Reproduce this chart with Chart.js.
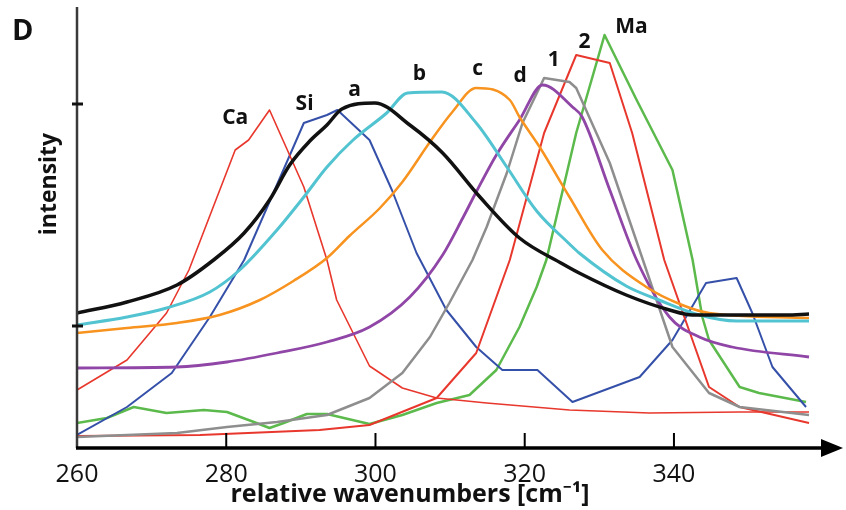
<!DOCTYPE html>
<html>
<head>
<meta charset="utf-8">
<script src="https://cdn.jsdelivr.net/npm/chart.js@4"></script>
<style>
  html, body { margin: 0; padding: 0; background: #fff; }
  #wrap { width: 846px; height: 510px; position: relative; }
</style>
</head>
<body>
<div id="wrap"><canvas id="spectra"></canvas></div>
<script>
// Raman band positions (x = relative wavenumber, y = intensity, a.u.)
const aX = [260, 266.7, 273.4, 278.3, 282.4, 285.8, 288.5, 291.2, 293.5, 295.5, 299.9, 304.6, 309, 314, 319.3, 325.1, 327.3, 333.6, 339.4, 342.5, 355, 358.1];
const aY = [135, 146, 163, 188, 215, 248, 283, 307, 323, 339, 345, 323, 295, 251, 210, 184, 175, 153, 138, 133, 133, 134];

const bX = [260, 266.7, 272, 277.8, 281.8, 286.8, 290.4, 293.5, 297, 301.5, 304.3, 308.9, 313.5, 317.6, 321.6, 326, 327.3, 333.6, 338, 343.4, 348.4, 358.1];
const bY = [123, 131, 140, 156, 178, 218, 251, 281, 308, 335, 355, 356, 325, 281, 237, 204, 195, 162, 148, 133, 127, 127];

const cX = [260, 266.7, 273.4, 279.1, 284.5, 289, 293.5, 296.5, 300.6, 303.6, 307.3, 310.3, 313.5, 318, 319.3, 322, 326, 330.4, 336.3, 341.1, 344.7, 358.1];
const cY = [115, 120, 125, 133, 148, 167, 190, 212, 240, 266, 306, 336, 360, 348, 331, 301, 251, 198, 161, 143, 135, 130];

const dX = [260, 273.4, 280.1, 286.8, 293.5, 299.2, 304.6, 309, 311.7, 313.5, 316.2, 319.3, 322.4, 326.4, 327.7, 331.4, 335, 339.4, 343.4, 347.8, 358.1];
const dY = [80, 81, 86, 95, 106, 121, 151, 193, 230, 256, 293, 328, 363, 341, 331, 258, 188, 131, 111, 101, 91];

const oneX = [260, 273.4, 280.1, 286.8, 293.5, 299.2, 303.6, 307.3, 309.9, 313, 314.9, 317.6, 319.7, 322.6, 326, 326.9, 331.4, 336.3, 339.8, 344.7, 348.8, 358.1];
const oneY = [11, 15, 21, 26, 33, 50, 75, 111, 145, 188, 221, 275, 325, 370, 366, 360, 285, 178, 101, 55, 41, 33];

const twoX = [260, 276.5, 292.5, 299.2, 308.2, 313.5, 318, 322.6, 326.9, 331.4, 334.4, 338.7, 344.7, 348.8, 358.1];
const twoY = [12, 13, 18, 23, 50, 95, 188, 315, 393, 385, 315, 188, 61, 41, 25];

const caX = [260, 266.7, 272, 275, 281.2, 283, 285.8, 290.4, 293.5, 294.8, 299.2, 303.6, 308.2, 314.9, 326, 336.7, 348.8, 358.1];
const caY = [58, 88, 135, 178, 298, 308, 338, 261, 188, 148, 82, 60, 50, 45, 38, 35, 36, 36];

const siX = [260, 266.7, 272.7, 277.8, 282.4, 290.4, 293.5, 294.9, 299.2, 302.2, 305.5, 309.5, 313.5, 317, 321.7, 326.4, 335.4, 339.8, 344.3, 348.4, 350.5, 353.2, 357.7];
const siY = [13, 41, 75, 131, 188, 325, 333, 338, 308, 258, 195, 138, 101, 78, 78, 46, 71, 108, 165, 170, 135, 81, 41];

const maX = [260, 264, 267.6, 272, 277, 280.1, 283.7, 285.8, 287.7, 290.8, 293.5, 295.2, 299.2, 303.6, 308.2, 312.6, 316.2, 319.3, 321.6, 322.9, 326.9, 330.7, 335, 339.8, 342.5, 343.8, 344.7, 348.8, 351.4, 357.7];
const maY = [25, 30, 41, 35, 38, 36, 26, 20, 25, 34, 34, 31, 24, 33, 45, 53, 78, 121, 161, 188, 315, 413, 348, 278, 188, 131, 108, 61, 55, 46];

const xTicks = [260, 280, 300, 320, 340];
const yTicks = [122, 344];

// curve names and where their labels sit (data coords)
const curveLabels = [
  { text: "Ca", x: 281.2, y: 330 },
  { text: "Si", x: 290.5, y: 344 },
  { text: "a", x: 297.2, y: 358 },
  { text: "b", x: 305.9, y: 374 },
  { text: "c", x: 313.7, y: 379 },
  { text: "d", x: 319.4, y: 372 },
  { text: "1", x: 323.9, y: 388 },
  { text: "2", x: 328, y: 406 },
  { text: "Ma", x: 334.3, y: 421 },
];

const FONT = "'Open Sans', 'Noto Sans', sans-serif";

function pts(xs, ys) {
  return xs.map((x, i) => ({ x: x, y: ys[i] }));
}

function series(label, xs, ys, color, width, smooth) {
  return {
    label: label,
    data: pts(xs, ys),
    borderColor: color,
    backgroundColor: color,
    borderWidth: width,
    pointRadius: 0,
    fill: false,
    tension: 0,
    cubicInterpolationMode: smooth ? "monotone" : "default",
    borderJoinStyle: "round",
  };
}

// axes, arrow and the text annotations are drawn on top of the plot
const frame = {
  id: "frame",
  afterDraw(chart) {
    const { ctx, chartArea: a, scales } = chart;
    const x = scales.x, y = scales.y;
    ctx.save();

    // y axis line
    ctx.strokeStyle = "#3a3a3a";
    ctx.lineWidth = 2.5;
    ctx.beginPath();
    ctx.moveTo(a.left, a.top);
    ctx.lineTo(a.left, a.bottom);
    ctx.stroke();

    // y ticks (no labels)
    ctx.strokeStyle = "#111";
    ctx.lineWidth = 3;
    yTicks.forEach(v => {
      const py = y.getPixelForValue(v);
      ctx.beginPath();
      ctx.moveTo(a.left - 5, py);
      ctx.lineTo(a.left + 6, py);
      ctx.stroke();
    });

    // x axis with arrow head
    ctx.strokeStyle = "#000";
    ctx.lineWidth = 3.5;
    ctx.beginPath();
    ctx.moveTo(a.left - 1, a.bottom);
    ctx.lineTo(a.right + 12, a.bottom);
    ctx.stroke();
    ctx.fillStyle = "#000";
    ctx.beginPath();
    ctx.moveTo(a.right + 9, a.bottom - 9);
    ctx.lineTo(a.right + 31, a.bottom);
    ctx.lineTo(a.right + 9, a.bottom + 9);
    ctx.closePath();
    ctx.fill();

    // inward x ticks
    ctx.lineWidth = 2;
    xTicks.slice(1).forEach(v => {
      const px = x.getPixelForValue(v);
      ctx.beginPath();
      ctx.moveTo(px, a.bottom);
      ctx.lineTo(px, a.bottom - 15);
      ctx.stroke();
    });

    // curve labels
    ctx.fillStyle = "#111";
    ctx.textAlign = "center";
    ctx.textBaseline = "middle";
    ctx.font = "bold 21px " + FONT;
    curveLabels.forEach(l => {
      ctx.fillText(l.text, x.getPixelForValue(l.x), y.getPixelForValue(l.y));
    });

    // x title (sits left of the plot centre in the original)
    ctx.textBaseline = "alphabetic";
    ctx.font = "bold 25px " + FONT;
    ctx.fillText("relative wavenumbers [cm\u207B\u00B9]", 410, 502);

    // panel letter
    ctx.textAlign = "left";
    ctx.font = "bold 29px " + FONT;
    ctx.fillText("D", 12, 40);

    // y title
    ctx.translate(49, 184);
    ctx.rotate(-Math.PI / 2);
    ctx.textAlign = "center";
    ctx.textBaseline = "middle";
    ctx.font = "bold 23px " + FONT;
    ctx.fillText("intensity", 0, 0);

    ctx.restore();
  },
};

new Chart(document.getElementById("spectra"), {
  type: "line",
  data: {
    datasets: [
      series("a", aX, aY, "#111111", 3.5, true),
      series("b", bX, bY, "#52c3d0", 3, true),
      series("c", cX, cY, "#f7931e", 2.5, true),
      series("d", dX, dY, "#9046a6", 2.8, true),
      series("1", oneX, oneY, "#8e8e8e", 2.5, false),
      series("2", twoX, twoY, "#e8372c", 2, false),
      series("Ca", caX, caY, "#e8372c", 1.6, false),
      series("Si", siX, siY, "#3550a8", 2, false),
      series("Ma", maX, maY, "#5cba4c", 2.5, false),
    ],
  },
  options: {
    responsive: true,
    maintainAspectRatio: false,
    animation: false,
    layout: { padding: { left: 77, right: 34, top: 7, bottom: 9 } },
    plugins: {
      legend: { display: false },
      tooltip: { enabled: false },
    },
    scales: {
      x: {
        type: "linear",
        min: 260,
        max: 358.5,
        grid: { display: false, drawTicks: false },
        border: { display: false },
        afterBuildTicks: scale => {
          scale.ticks = xTicks.map(v => ({ value: v }));
        },
        ticks: {
          color: "#111",
          padding: 14,
          maxRotation: 0,
          font: { family: FONT, size: 25, lineHeight: 1 },
        },
        title: { display: false },
      },
      y: {
        type: "linear",
        min: 0,
        max: 441,
        display: false,
      },
    },
  },
  plugins: [frame],
});
</script>
</body>
</html>
